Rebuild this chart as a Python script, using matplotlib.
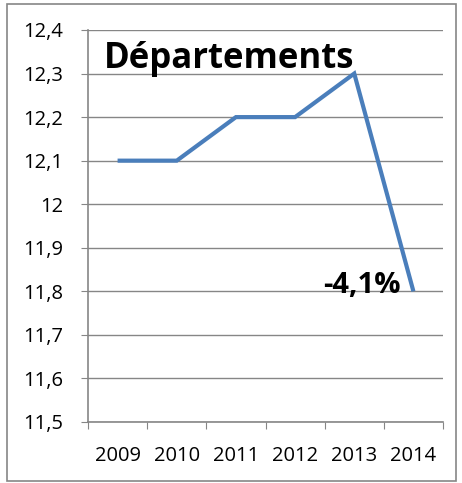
import matplotlib.pyplot as plt
import matplotlib.patches as mpatches
import numpy as np

years = ["2009", "2010", "2011", "2012", "2013", "2014"]
values = [12.1, 12.1, 12.2, 12.2, 12.3, 11.8]
y_ticks = [11.5, 11.6, 11.7, 11.8, 11.9, 12.0, 12.1, 12.2, 12.3, 12.4]
title = "Départements"
change_label = "-4,1%"

plt.rcParams['font.family'] = ['Open Sans', 'DejaVu Sans']
grey = "#868686"

fig = plt.figure(figsize=(4.62, 4.83), dpi=100)
fig.patches.append(mpatches.Rectangle((7 / 462, 2 / 483), 449 / 462, 477 / 483,
                                      transform=fig.transFigure, fill=False,
                                      edgecolor=grey, linewidth=1.2))
ax = fig.add_axes([88 / 462, 1 - 422 / 483, (443 - 88) / 462, (422 - 30) / 483])

x = np.arange(len(years)) + 0.5
ax.plot(x, values, color="#4A7EBB", linewidth=3, solid_capstyle="butt",
        solid_joinstyle="miter", zorder=3)

ax.set_xlim(0, len(years))
ax.set_ylim(11.5, 12.4)
ax.set_yticks(y_ticks)
ax.set_yticklabels([("%g" % v).replace(".", ",") for v in y_ticks], fontsize=14.5)
ax.set_xticks(np.arange(len(years) + 1))
ax.set_xticklabels([])
ax.set_xticks(x, minor=True)
ax.set_xticklabels(years, minor=True, fontsize=14.5)
ax.tick_params(axis="x", which="minor", length=0, pad=17)
ax.tick_params(axis="x", which="major", length=5, color=grey, direction="out")
ax.tick_params(axis="y", length=5, color=grey, pad=13)
ax.grid(axis="y", color=grey, linewidth=1)
ax.set_axisbelow(True)
for side in ["top", "right"]:
    ax.spines[side].set_visible(False)
for side in ["left", "bottom"]:
    ax.spines[side].set_color(grey)
    ax.spines[side].set_linewidth(1.2)

ax.text(0.27, 12.313, title, fontsize=25, fontweight="bold", va="baseline", ha="left")
ax.text(5.29, 11.797, change_label, fontsize=21, fontweight="bold", va="baseline", ha="right")

fig.savefig("out.png", dpi=100)
